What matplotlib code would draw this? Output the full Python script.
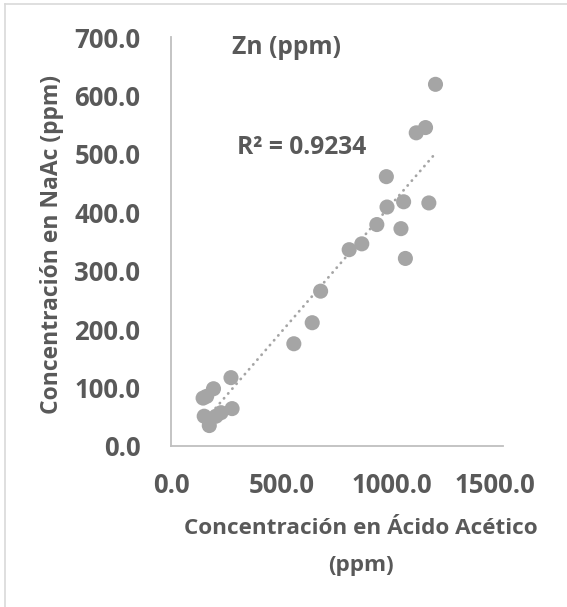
import numpy as np
import matplotlib
matplotlib.use("Agg")
import matplotlib.pyplot as plt
from matplotlib.lines import Line2D
from matplotlib.transforms import ScaledTranslation

# Zn concentrations (ppm): acetic-acid extraction vs NaAc extraction
acido_acetico = [1195, 1150, 1108, 973, 1051, 1165, 976, 930, 1039, 1059,
                 862, 805, 676, 638, 555, 271, 192, 145, 161, 276,
                 226, 203, 150, 173]
naac = [619, 545, 536, 461, 418, 416, 409, 379, 372, 321,
        346, 336, 265, 211, 175, 117, 98, 82, 85, 64,
        57, 51, 51, 35]
r2_text = "R² = 0.9234"

x_ticks = [0, 500, 1000, 1500]
y_ticks = [0, 100, 200, 300, 400, 500, 600, 700]

TEXT = "#595959"
MARK = "#A5A5A5"
FONT = "Open Sans"

W, H = 567, 607
fig = plt.figure(figsize=(W / 100, H / 100), dpi=100)
fig.patch.set_facecolor("white")

def fx(px):
    return px / W

def fy(py):
    return 1 - py / H

ax = fig.add_axes([fx(171), fy(446), fx(503) - fx(171), fy(37) - fy(446)])

x = np.array(acido_acetico, float)
y = np.array(naac, float)

# linear trend line over the data range
m, b = np.polyfit(x, y, 1)
xt = np.array([x.min(), x.max()])
ax.plot(xt, m * xt + b, color=MARK, lw=2.0, linestyle=(0, (0.1, 2.2)),
        dash_capstyle="round", zorder=2)

ax.scatter(x, y, s=118, color=MARK, edgecolors="none", zorder=3)

ax.set_xlim(0, 1500)
ax.set_ylim(0, 700)
ax.set_xticks(x_ticks)
ax.set_yticks(y_ticks)
ax.set_xticklabels([f"{v:.1f}" for v in x_ticks])
ax.set_yticklabels([f"{v:.1f}" for v in y_ticks])
ax.tick_params(length=0, labelsize=18.5, labelcolor=TEXT)
ax.tick_params(axis="x", pad=19)
ax.tick_params(axis="y", pad=22)
for lab in ax.get_xticklabels() + ax.get_yticklabels():
    lab.set_fontfamily(FONT)
    lab.set_fontweight("bold")
# nudge the last x label a little inward
last = ax.xaxis.get_major_ticks()[-1].label1
last.set_transform(last.get_transform()
                   + ScaledTranslation(-8 / 100, 0, fig.dpi_scale_trans))

for side in ("top", "right"):
    ax.spines[side].set_visible(False)
for side in ("left", "bottom"):
    ax.spines[side].set_color("#BFBFBF")
    ax.spines[side].set_linewidth(1.3)

fig.text(fx(286), fy(47), "Zn (ppm)", ha="center", va="center",
         fontsize=17.7, fontweight="bold", color=TEXT, family=FONT)
fig.text(fx(302), fy(147), r2_text, ha="center", va="center",
         fontsize=17.7, fontweight="bold", color=TEXT, family=FONT)
fig.text(fx(361), fy(528), "Concentración en Ácido Acético", ha="center",
         va="center", fontsize=16.2, fontweight="bold", color=TEXT, family=FONT)
fig.text(fx(361), fy(565), "(ppm)", ha="center", va="center",
         fontsize=16.2, fontweight="bold", color=TEXT, family=FONT)
fig.text(fx(52), fy(245), "Concentración en NaAc (ppm)", ha="center",
         va="center", rotation=90, fontsize=16.5, fontweight="bold",
         color=TEXT, family=FONT)

# chart frame edges
fig.add_artist(Line2D([fx(5), fx(5)], [fy(4), 0], color="#D9D9D9", lw=1.2))
fig.add_artist(Line2D([fx(5), 1], [fy(4), fy(4)], color="#D9D9D9", lw=1.2))

fig.savefig("out.png", dpi=100)
